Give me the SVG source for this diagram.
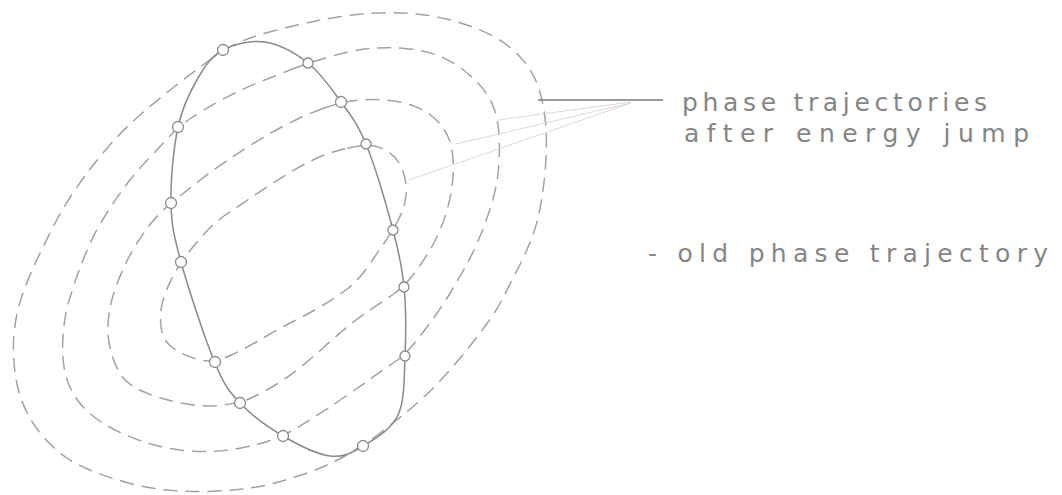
<svg xmlns="http://www.w3.org/2000/svg" width="1062" height="495" viewBox="0 0 1062 495">
<style>
.dash{fill:none;stroke:#a2a2a2;stroke-width:1.5;stroke-dasharray:13 9;stroke-linecap:round}
.old{fill:none;stroke:#8a8a8a;stroke-width:1.5;stroke-linejoin:round}
.pt{fill:#fff;stroke:#8a8a8a;stroke-width:1.3}
.lbl{font-family:"DejaVu Sans","Liberation Sans",sans-serif;font-size:25px;fill:#858585}
.lead{stroke:#7b7b7b;stroke-width:1.3;fill:none}
.faint{stroke:#dcd2d7;stroke-width:0.9;fill:none}
</style>
<rect width="1062" height="495" fill="#fff"/>
<g id="trajectory-after-1">
<path class="dash" d="M205.5,63 Q223,50 236.5,43.5 Q250,37 275,30.5 Q300,24 323.5,19.5 Q347,15 368.5,13.5 Q390,12 410,13.5 Q430,15 446.5,19 Q463,23 479,29.5 Q495,36 507.5,45.5 Q520,55 528.5,67.5 Q537,80 541,96 Q545,112 546,128.5 Q547,145 545.5,166 Q544,187 540.5,206 Q537,225 531,240 Q525,255 518.5,267.5 Q512,280 504.5,295 Q497,310 486,325 Q475,340 463.5,354 Q452,368 439.5,381.5 Q427,395 412,407.5 Q397,420 380,433 Q363,446 345,456 Q327,466 310,472 Q293,478 276.5,482.5 Q260,487 242.5,489 Q225,491 206,491.5 Q187,492 167,490 Q147,488 128.5,483 Q110,478 93.5,471.5 Q77,465 66,457.5 Q55,450 44,437.5 Q33,425 26.5,411.5 Q20,398 17,384 Q14,370 13.5,352.5 Q13,335 16,319 Q19,303 25,287.5 Q31,272 37.5,258.5 Q44,245 52,229 Q60,213 70,197.5 Q80,182 90.5,168.5 Q101,155 113,141.5 Q125,128 140,115 Q155,102 171.5,89 Q188,76 205.5,63 Z"/>
</g>
<g id="trajectory-after-2">
<path class="dash" d="M292.5,69 Q308,63 330.5,56.5 Q353,50 370,48.5 Q387,47 405,48.5 Q423,50 436.5,55 Q450,60 461.5,68.5 Q473,77 481.5,87 Q490,97 494,108.5 Q498,120 499,135 Q500,150 498.5,168.5 Q497,187 491,206 Q485,225 478.5,240 Q472,255 465,267.5 Q458,280 450.5,292.5 Q443,305 434,317.5 Q425,330 415,342.5 Q405,355 392.5,363.5 Q380,372 367.5,381 Q355,390 341,399.5 Q327,409 316,416 Q305,423 294,429.5 Q283,436 270,440.5 Q257,445 241,448 Q225,451 210,451.5 Q195,452 180,450 Q165,448 151,444 Q137,440 123.5,434 Q110,428 99,420.5 Q88,413 80.5,404 Q73,395 68.5,383.5 Q64,372 63,358.5 Q62,345 63.5,330 Q65,315 68.5,302.5 Q72,290 77,276 Q82,262 88.5,247 Q95,232 105,216 Q115,200 125,186.5 Q135,173 146,161.5 Q157,150 167.5,138.5 Q178,127 190.5,118.5 Q203,110 221.5,100 Q240,90 258.5,82.5 Q277,75 292.5,69 Z"/>
</g>
<g id="trajectory-after-3">
<path class="dash" d="M323,108.5 Q341,102 355.5,100.5 Q370,99 385,100 Q400,101 412.5,105.5 Q425,110 433.5,117.5 Q442,125 446.5,133.5 Q451,142 452.5,153.5 Q454,165 453,177.5 Q452,190 449,202.5 Q446,215 441,227.5 Q436,240 429,251.5 Q422,263 413,275 Q404,287 393,294.5 Q382,302 370,310 Q358,318 346.5,327.5 Q335,337 323.5,347.5 Q312,358 299.5,368 Q287,378 274.5,385.5 Q262,393 251,398 Q240,403 223.5,405 Q207,407 190,404.5 Q173,402 157.5,397 Q142,392 132.5,386 Q123,380 117.5,369 Q112,358 109.5,345 Q107,332 108.5,318.5 Q110,305 113.5,294 Q117,283 122.5,270.5 Q128,258 135,246.5 Q142,235 148.5,226.5 Q155,218 163,210.5 Q171,203 180.5,195.5 Q190,188 201.5,179 Q213,170 226.5,161 Q240,152 255,142.5 Q270,133 287.5,124 Q305,115 323,108.5 Z"/>
</g>
<g id="trajectory-after-4">
<path class="dash" d="M348,148 Q366,144 374.5,146 Q383,148 390,153 Q397,158 401,166.5 Q405,175 406,185 Q407,195 404.5,204 Q402,213 397.5,221.5 Q393,230 385.5,241 Q378,252 368,266.5 Q358,281 346.5,289.5 Q335,298 322.5,305.5 Q310,313 295,320.5 Q280,328 265,337 Q250,346 232.5,354.5 Q215,363 201,360 Q187,357 176,350 Q165,343 162.5,334 Q160,325 160.5,315 Q161,305 165,294 Q169,283 175,272.5 Q181,262 188,253 Q195,244 205,233 Q215,222 227.5,213.5 Q240,205 255,195 Q270,185 285,175.5 Q300,166 315,159 Q330,152 348,148 Z"/>
</g>
<g id="old-trajectory">
<path class="old" d="M265,42 C279.2,44.2 295.3,53 308,63 C320.7,73 331.3,88.5 341,102 C350.7,115.5 357.3,122.7 366,144 C374.7,165.3 386.7,206.2 393,230 C399.3,253.8 402,266 404,287 C406,308 406,334.7 405,356 C404,377.3 405,400 398,415 C391,430 374.3,439.2 363,446 C351.7,452.8 343.3,457.7 330,456 C316.7,454.3 298,444.8 283,436 C268,427.2 251.3,415.2 240,403 C228.7,390.8 224.8,386.5 215,363 C205.2,339.5 188.3,288.7 181,262 C173.7,235.3 171.5,225.5 171,203 C170.5,180.5 173.5,147.8 178,127 C182.5,106.2 190.5,90.8 198,78 C205.5,65.2 211.8,56 223,50 C234.2,44 250.8,40 265,42 Z"/>
</g>
<g id="intersection-points">
<circle class="pt" cx="223" cy="50" r="5.5"/>
<circle class="pt" cx="308" cy="63" r="5"/>
<circle class="pt" cx="341" cy="102" r="5.5"/>
<circle class="pt" cx="366" cy="144" r="5"/>
<circle class="pt" cx="393" cy="230" r="5"/>
<circle class="pt" cx="404" cy="287" r="5"/>
<circle class="pt" cx="405" cy="356" r="5"/>
<circle class="pt" cx="363" cy="446" r="5.5"/>
<circle class="pt" cx="283" cy="436" r="5.5"/>
<circle class="pt" cx="240" cy="403" r="5.5"/>
<circle class="pt" cx="215" cy="362" r="5.5"/>
<circle class="pt" cx="181" cy="262" r="5.5"/>
<circle class="pt" cx="171" cy="203" r="5.5"/>
<circle class="pt" cx="178" cy="127" r="5.5"/>
</g>
<g id="connectors">
<line class="lead" x1="538" y1="100" x2="663" y2="100"/>
<line class="faint" x1="631" y1="102" x2="498" y2="120"/>
<line class="faint" x1="631" y1="103" x2="456" y2="144"/>
<line class="faint" x1="631" y1="103" x2="409" y2="180"/>
</g>
<g id="label-after">
<text class="lbl" x="682" y="111" textLength="305" lengthAdjust="spacing">phase trajectories</text>
<text class="lbl" x="684" y="142" textLength="345" lengthAdjust="spacing">after energy jump</text>
</g>
<g id="label-old">
<text class="lbl" x="648" y="262" textLength="400" lengthAdjust="spacing">- old phase trajectory</text>
</g>
</svg>
